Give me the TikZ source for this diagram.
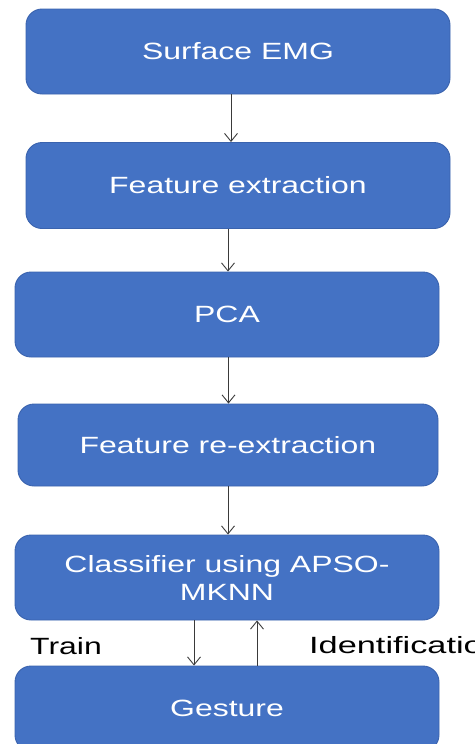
\documentclass[tikz,border=0pt]{standalone}
\usepackage{fontspec}
\setmainfont{Liberation Sans}[FakeStretch=1.36]
\newfontfamily\widesans{Liberation Sans}[FakeStretch=1.46]
\usetikzlibrary{arrows.meta}
\definecolor{boxfill}{HTML}{4472C4}
\definecolor{boxedge}{HTML}{3A63AE}
\definecolor{linegray}{HTML}{3A3A3A}
\tikzset{
  flowbox/.style={rectangle, rounded corners=16pt, fill=boxfill, draw=boxedge,
    line width=0.9pt, minimum width=424pt, minimum height=85pt, inner sep=0pt,
    text=white, align=center, font=\fontsize{23.5}{28}\selectfont},
  flowarrow/.style={draw=linegray, line width=0.9pt,
    -{Straight Barb[length=8pt,width=13pt,line width=0.9pt]}},
  sidelabel/.style={anchor=base west, inner sep=0pt, text=black,
    font=\fontsize{23.5}{28}\selectfont}
}
\begin{document}
\begin{tikzpicture}[x=1pt, y=-1pt]
  \useasboundingbox (0,0) rectangle (474,744);
  \begin{scope}
    \clip (0,0) rectangle (474,744);
    % processing stages, top to bottom
    \node[flowbox] (emg) at (238,51.5) {Surface EMG};
    \node[flowbox, minimum height=86pt] (feat) at (238,185.5) {Feature extraction};
    \node[flowbox] (pca) at (227,314.5) {PCA};
    \node[flowbox, minimum width=420pt, minimum height=82pt] (refeat) at (228,445) {Feature re-extraction};
    \node[flowbox] (clf) at (227,577.5) {Classifier using APSO-\\MKNN};
    \node[flowbox] (gest) at (227,708.5) {Gesture};

    % connectors between stages
    \draw[flowarrow] ([xshift=-7pt]emg.south) -- ([xshift=-7pt]emg.south |- feat.north);
    \draw[flowarrow] ([xshift=-10pt]feat.south) -- ([xshift=-10pt]feat.south |- pca.north);
    \draw[flowarrow] ([xshift=1.5pt]pca.south) -- ([xshift=1.5pt]pca.south |- refeat.north);
    \draw[flowarrow] ([xshift=0pt]refeat.south) -- ([xshift=0pt]refeat.south |- clf.north);

    % training and identification paths
    \draw[flowarrow] ([xshift=-33pt]clf.south) -- ([xshift=-33pt]clf.south |- gest.north);
    \draw[flowarrow] ([xshift=30pt]gest.north) -- ([xshift=30pt]gest.north |- clf.south);

    \node[sidelabel] (train) at (30,654) {Train};
    \node[sidelabel, font=\widesans\fontsize{23.5}{28}\selectfont] (ident) at (309,653) {Identification};
  \end{scope}
\end{tikzpicture}
\end{document}
